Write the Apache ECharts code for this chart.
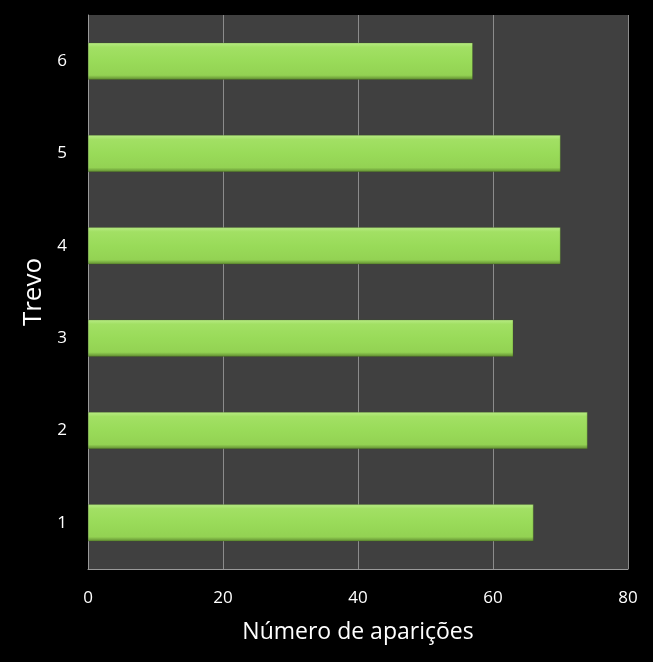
<!DOCTYPE html>
<html lang="pt">
<head>
    <meta charset="UTF-8">
    <title>Trevo</title>
    <style>
        html, body { margin: 0; padding: 0; background: #000; }
    </style>
</head>
<body>
    <div id="chart" style="width:653px; height:662px"></div>

    <script src="https://cdn.jsdelivr.net/npm/echarts@6/dist/echarts.min.js"></script>
    <script>
        // dados
        const categories = ['1', '2', '3', '4', '5', '6'];
        const values = [66, 74, 63, 70, 70, 57];
        const xTicks = [0, 20, 40, 60, 80];

        const chart = echarts.init(document.querySelector('#chart'));

        const labelFont = "'Open Sans', 'DejaVu Sans', sans-serif";

        chart.setOption({
            backgroundColor: '#000',
            animation: false,
            grid: {
                left: 88,
                right: 25,
                top: 15,
                bottom: 93,
                show: true,
                backgroundColor: '#404040',
                borderWidth: 0
            },
            xAxis: {
                type: 'value',
                min: xTicks[0],
                max: xTicks[xTicks.length - 1],
                interval: 20,
                name: 'Número de aparições',
                nameLocation: 'middle',
                nameGap: 52,
                nameTextStyle: { color: '#fff', fontSize: 23, fontFamily: labelFont },
                axisLine: { show: true, lineStyle: { color: '#9a9a9a', width: 1 } },
                axisTick: { show: false },
                axisLabel: { color: '#fff', fontSize: 17, margin: 21, fontFamily: labelFont },
                splitLine: { show: true, lineStyle: { color: '#8c8c8c', width: 1 } }
            },
            yAxis: {
                type: 'category',
                data: categories,
                name: 'Trevo',
                nameLocation: 'middle',
                nameGap: 39,
                nameRotate: 90,
                nameTextStyle: { color: '#fff', fontSize: 26, fontFamily: labelFont },
                axisLine: { show: true, lineStyle: { color: '#9a9a9a', width: 1 } },
                axisTick: { show: false },
                axisLabel: { color: '#fff', fontSize: 17, margin: 21, fontFamily: labelFont },
                splitLine: { show: false }
            },
            series: [{
                type: 'bar',
                data: values,
                barWidth: 37,
                itemStyle: {
                    color: new echarts.graphic.LinearGradient(0, 0, 0, 1, [
                        { offset: 0, color: '#b9ec86' },
                        { offset: 0.12, color: '#a2e064' },
                        { offset: 0.5, color: '#99db59' },
                        { offset: 0.88, color: '#93d253' },
                        { offset: 1, color: '#5f8a30' }
                    ]),
                    borderColor: 'rgba(60,90,30,0.6)',
                    borderWidth: 0.5
                }
            }]
        });
    </script>
</body>
</html>
